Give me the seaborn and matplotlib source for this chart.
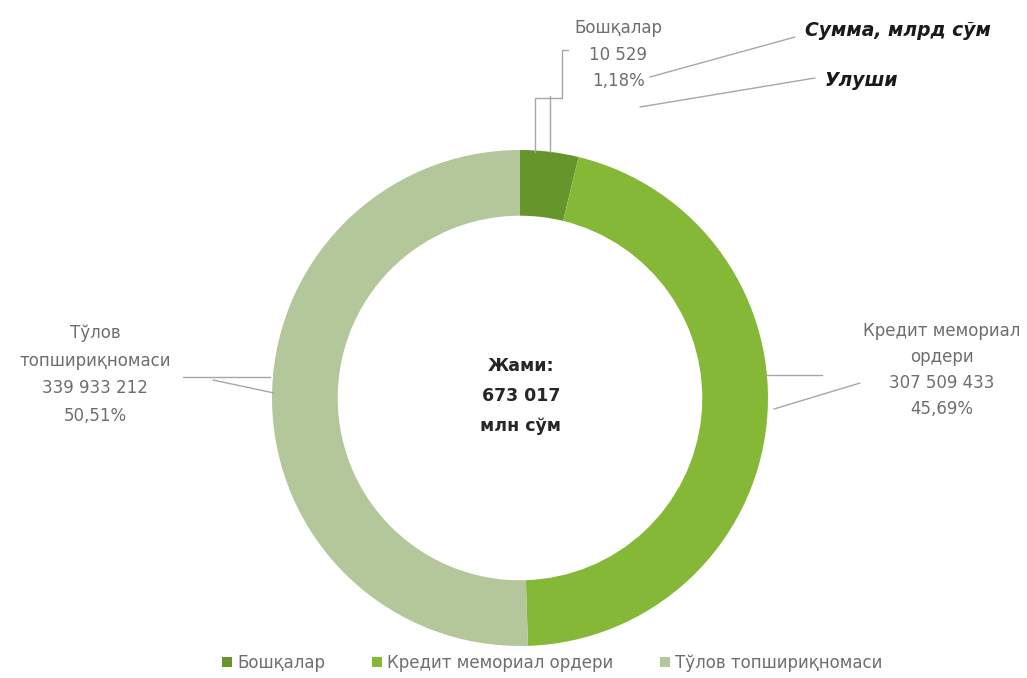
import matplotlib
matplotlib.use("Agg")
import matplotlib.pyplot as plt
from matplotlib.lines import Line2D
import seaborn as sns

# chart data
categories = ["Бошқалар", "Кредит мемориал ордери", "Тўлов топшириқномаси"]
slice_shares = [3.8, 45.69, 50.51]  # slice sizes as drawn in the picture
amount_labels = ["10 529", "307 509 433", "339 933 212"]
share_labels = ["1,18%", "45,69%", "50,51%"]
total_label = ["Жами:", "673 017", "млн сўм"]
colors = ["#66962b", "#86b838", "#b3c79a"]

W, H = 1027, 678


def px(x, y):
    return x / W, 1 - y / H


sns.set_theme(style="white")
plt.rcParams["font.family"] = ["DejaVu Sans"]

fig = plt.figure(figsize=(W / 100, H / 100), dpi=100)
cx, cy, r = 520, 398, 248
ax = fig.add_axes([(cx - r) / W, 1 - (cy + r) / H, 2 * r / W, 2 * r / H])
wedges, _ = ax.pie(
    slice_shares,
    colors=colors,
    startangle=90,
    counterclock=False,
    radius=1,
    wedgeprops=dict(width=0.265, linewidth=0),
)
ax.set_xlim(-1, 1)
ax.set_ylim(-1, 1)
ax.set_aspect("auto")
ax.axis("off")

# centre text
for i, t in enumerate(total_label):
    fig.text(*px(cx + 1, 366 + 30 * i), t, ha="center", va="center",
             fontsize=12.5, fontweight="bold", color="#262626")

grey = "#6e6e6e"
line_kw = dict(color="#a6a6a6", lw=1, transform=fig.transFigure)


def label_block(x, y0, lines, step):
    for i, t in enumerate(lines):
        fig.text(*px(x, y0 + step * i), t, ha="center", va="center",
                 fontsize=12, color=grey)


def poly(points):
    xs = [p[0] / W for p in points]
    ys = [1 - p[1] / H for p in points]
    fig.add_artist(Line2D(xs, ys, **line_kw))


# Бошқалар
label_block(618, 28, [categories[0], amount_labels[0], share_labels[0]], 26.5)
poly([(568, 50), (562, 50), (562, 98), (535, 98), (535, 152)])
poly([(550, 96), (550, 152)])

# Кредит мемориал ордери
label_block(942, 331, ["Кредит мемориал", "ордери", amount_labels[1], share_labels[1]], 26)
poly([(766, 375), (822, 375)])
poly([(774, 409), (860, 383)])

# Тўлов топшириқномаси
label_block(95, 333, ["Тўлов", "топшириқномаси", amount_labels[2], share_labels[2]], 27.7)
poly([(183, 377), (270, 377)])
poly([(213, 380), (274, 393)])

# annotations at top right
fig.text(*px(805, 31), "Сумма, млрд сўм", ha="left", va="center", fontsize=13.5,
         fontweight="bold", fontstyle="italic", color="#1a1a1a")
fig.text(*px(825, 81), "Улуши", ha="left", va="center", fontsize=13.5,
         fontweight="bold", fontstyle="italic", color="#1a1a1a")
poly([(650, 77), (795, 37)])
poly([(640, 107), (815, 78)])

fig.legend(
    wedges, categories,
    loc="center", bbox_to_anchor=px(552, 663), ncol=3, frameon=False,
    fontsize=12, labelcolor=grey, handlelength=0.6, handleheight=0.6,
    handletextpad=0.3, columnspacing=2.8,
)

fig.savefig("out.png", dpi=100, facecolor="white")
